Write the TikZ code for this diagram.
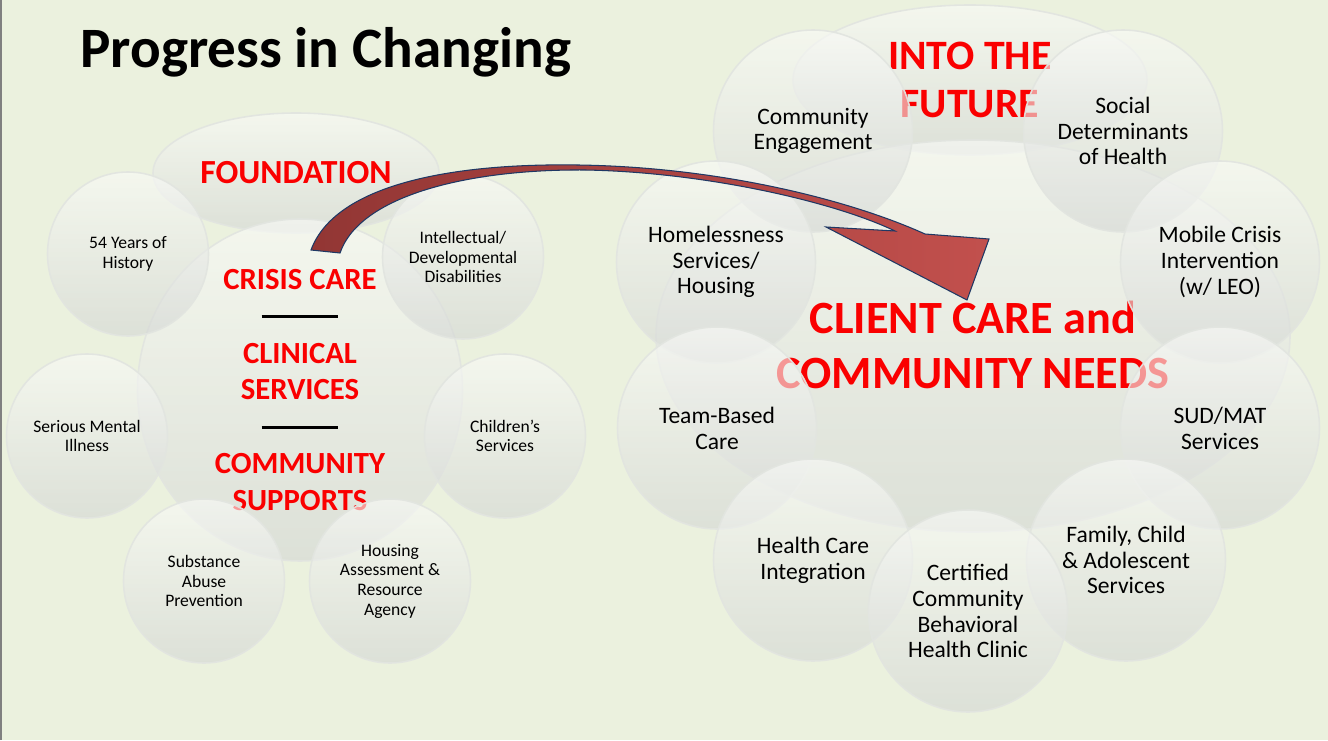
\documentclass[tikz,border=0pt]{standalone}
\usepackage{fontspec}
\setmainfont{Carlito}
\usetikzlibrary{shapes.geometric}
\definecolor{slidebg}{RGB}{235,241,222}
\definecolor{bubtop}{RGB}{250,251,248}
\definecolor{bubbot}{RGB}{212,215,212}
\definecolor{bubline}{RGB}{226,229,224}
\definecolor{arrowdark}{RGB}{146,54,52}
\definecolor{arrowlight}{RGB}{194,80,77}
\definecolor{arrowline}{RGB}{31,56,100}
\definecolor{labelred}{RGB}{250,0,0}
\newcommand{\sepbar}{\textcolor{black}{\rule[0.27em]{43.6pt}{1.7pt}}}
\tikzset{
	bubble/.style={ellipse, inner sep=0pt, draw=bubline, line width=0.9pt,
		top color=bubtop, bottom color=bubbot, fill opacity=0.62, draw opacity=0.95,
		text opacity=1, align=center, text=black},
	smallbub/.style={bubble, minimum width=3.22cm, minimum height=3.28cm,
		font=\fontsize{10}{11.2}\selectfont},
	bigbub/.style={bubble, minimum width=3.98cm, minimum height=4.04cm,
		font=\fontsize{13.4}{14.7}\selectfont},
	redlbl/.style={text=labelred, font=\bfseries\fontsize{17.5}{21}\selectfont},
	arrowbody/.style={draw=arrowline, line width=0.6pt, left color=arrowdark, right color=arrowlight}
}

\begin{document}
\begin{tikzpicture}
			%%%%% START %%%%%
			
			\useasboundingbox (0, 0) rectangle (26.56, 14.8);
			\fill[slidebg] (0, 0) rectangle (26.56, 14.8);
			\draw[line width=1.2pt, color=gray] (0.02, 0) -- (0.02, 14.8);
			
			\node[anchor=base west, inner sep=0pt, font=\bfseries\fontsize{32.5}{38}\selectfont] (title) at (1.6, 13.44) {Progress in Changing};
			
			% left cluster
			\node[bubble, minimum width=5.72cm, minimum height=2.4cm, text=labelred, font=\bfseries\fontsize{19.2}{23}\selectfont] (found) at (5.92, 11.34) {FOUNDATION};
			\node[bubble, minimum width=6.5cm, minimum height=6.12cm, redlbl, text=labelred] (core) at (6.0, 7.0) {CRISIS CARE\\ \sepbar\\ CLINICAL\\ SERVICES\\ \sepbar\\ COMMUNITY\\ SUPPORTS};
			\node[smallbub] (hist) at (2.56, 9.72) {54 Years of\\History};
			\node[smallbub] (idd) at (9.26, 9.66) {Intellectual/\\Developmental\\Disabilities};
			\node[smallbub] (smi) at (1.74, 6.08) {Serious Mental\\Illness};
			\node[smallbub] (chld) at (10.1, 6.08) {Children’s\\Services};
			\node[smallbub] (sap) at (4.08, 3.18) {Substance\\Abuse\\Prevention};
			\node[smallbub] (hara) at (7.8, 3.18) {Housing\\Assessment \&\\Resource\\Agency};
			
			% right cluster
			\node[bubble, minimum width=7.08cm, minimum height=3.0cm, text=labelred, font=\bfseries\fontsize{23.8}{27.2}\selectfont] (future) at (19.4, 13.2) {INTO THE\\FUTURE};
			\node[bubble, minimum width=12.68cm, minimum height=7.84cm] (needs) at (19.46, 8.08) {};
			\node[align=center, text=labelred, font=\bfseries\fontsize{26.3}{31.7}\selectfont] (ccn) at (19.46, 7.9) {CLIENT CARE and\\COMMUNITY NEEDS};
			\node[bigbub] (eng) at (16.26, 12.18) {Community\\Engagement};
			\node[bigbub] (sdoh) at (22.46, 12.18) {Social\\Determinants\\of Health};
			\node[bigbub] (home) at (14.32, 9.56) {Homelessness\\Services/\\Housing};
			\node[bigbub] (mob) at (24.4, 9.56) {Mobile Crisis\\Intervention\\(w/ LEO)};
			\node[bigbub] (team) at (14.34, 6.24) {Team-Based\\Care};
			\node[bigbub] (sud) at (24.4, 6.24) {SUD/MAT\\Services};
			\node[bigbub] (hci) at (16.26, 3.6) {Health Care\\Integration};
			\node[bigbub] (fam) at (22.52, 3.6) {Family, Child\\\& Adolescent\\Services};
			\node[bigbub] (ccbhc) at (19.36, 2.58) {Certified\\Community\\Behavioral\\Health Clinic};
			
			% curved block arrow
			\draw[arrowbody] (6.22, 9.8) .. controls (6.7, 11.1) and (9.0, 11.54) .. (11.56, 11.5)
				.. controls (14.4, 11.46) and (17.0, 10.8) .. (18.5, 10.12)
				-- (19.78, 10.02) -- (19.34, 8.8) -- (16.52, 10.26) -- (17.9, 10.18)
				.. controls (16.6, 10.8) and (14.0, 11.36) .. (11.7, 11.4)
				.. controls (9.4, 11.42) and (7.2, 10.9) .. (6.8, 9.74) -- cycle;
			
			%%%%% END %%%%%
\end{tikzpicture}
\end{document}
